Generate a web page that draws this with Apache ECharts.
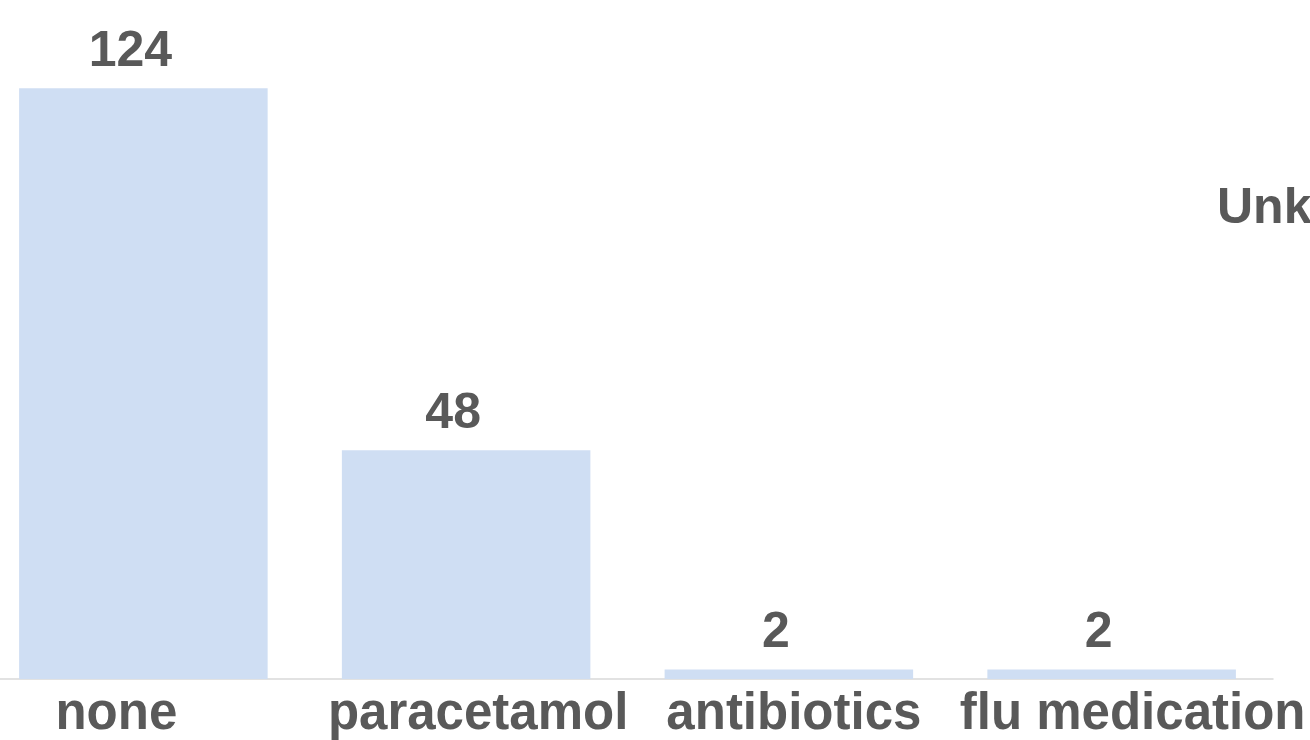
<!DOCTYPE html>
<html><head><meta charset="utf-8">
<script src="https://cdn.jsdelivr.net/npm/echarts@6/dist/echarts.min.js"></script>
<style>html,body{margin:0;padding:0;background:#fff;overflow:hidden;width:1310px;height:740px;position:relative}
#c{width:1328px;height:740px;position:absolute;left:-18px;top:0}</style>
</head><body><div id="c"></div>
<script>
const categories = ['none', 'paracetamol', 'antibiotics', 'flu medication'];
const counts = [124, 48, 2, 2];
const sideText = 'Unknown';

const FONT = '"Liberation Sans", Arial, sans-serif';
const TXT = '#595959';
const shifts = [-27, 12, 5, 21];
const rich = {};
shifts.forEach((s, i) => {
  rich['c' + i] = {
    fontFamily: FONT, fontWeight: 'bold', fontSize: 51, color: TXT,
    padding: s >= 0 ? [0, 0, 0, 2 * s] : [0, -2 * s, 0, 0]
  };
});

const chart = echarts.init(document.getElementById('c'));
chart.setOption({
  animation: false,
  grid: { left: 0, right: 37, top: 12, bottom: 52, containLabel: false },
  xAxis: {
    type: 'category', data: categories,
    axisLine: { show: true, lineStyle: { color: '#d9d9d9', width: 1.5 } },
    axisTick: { show: false },
    axisLabel: {
      interval: 0, margin: 10,
      formatter: (v, i) => '{c' + i + '|' + v + '}',
      rich: rich
    }
  },
  yAxis: { type: 'value', min: 0, max: 140, show: false, splitLine: { show: false } },
  series: [{
    type: 'bar', data: counts, barCategoryGap: '23%',
    itemStyle: { color: '#cfdef3' },
    label: {
      show: true, position: 'top', distance: 11, offset: [-13, 0],
      fontFamily: FONT, fontWeight: 'bold', fontSize: 50, color: TXT
    }
  }],
  graphic: [{
    type: 'text', left: 1235, top: 184,
    style: { text: sideText, fontFamily: FONT, fontWeight: 'bold', fontSize: 50, fill: TXT }
  }]
});
</script></body></html>
